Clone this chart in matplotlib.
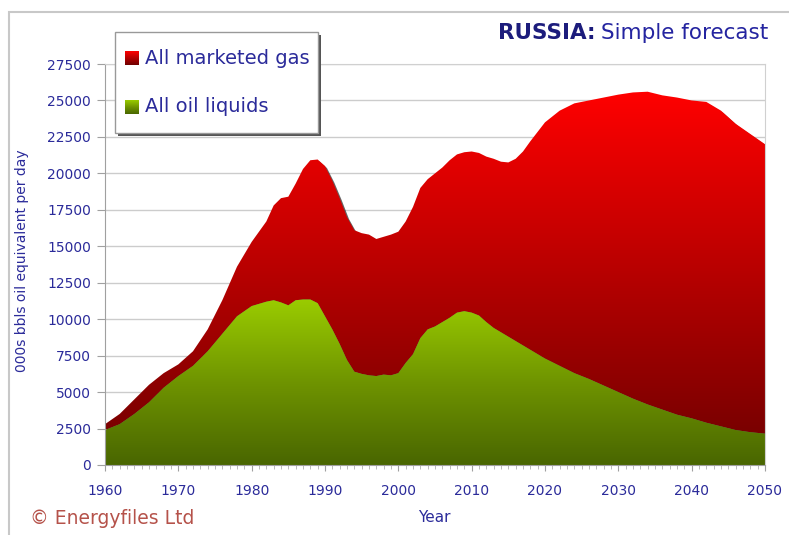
import numpy as np
import matplotlib
matplotlib.use('Agg')
import matplotlib.pyplot as plt
from matplotlib.colors import LinearSegmentedColormap
from matplotlib.patches import Rectangle
from matplotlib.ticker import MultipleLocator
from matplotlib.transforms import ScaledTranslation

years = [1960, 1962, 1964, 1966, 1968, 1970, 1972, 1974, 1976, 1978, 1980, 1982,
         1983, 1984, 1985, 1986, 1987, 1988, 1989, 1990, 1991, 1992, 1993, 1994,
         1995, 1996, 1997, 1998, 1999, 2000, 2001, 2002, 2003, 2004, 2005, 2006,
         2007, 2008, 2009, 2010, 2011, 2012, 2013, 2014, 2015, 2016, 2017, 2018,
         2020, 2022, 2024, 2026, 2028, 2030, 2032, 2034, 2036, 2038, 2040, 2042,
         2044, 2046, 2048, 2050]
total = [2800, 3500, 4500, 5500, 6300, 6900, 7800, 9300, 11300, 13600, 15300, 16700,
         17800, 18300, 18400, 19300, 20300, 20900, 20950, 20500, 19500, 18300, 17000, 16100,
         15900, 15800, 15500, 15650, 15800, 16000, 16700, 17700, 19000, 19600, 20000, 20400,
         20900, 21300, 21450, 21500, 21400, 21150, 21000, 20800, 20750, 21000, 21500, 22200,
         23500, 24300, 24800, 25000, 25200, 25400, 25550, 25600, 25350, 25200, 25000, 24900,
         24300, 23400, 22700, 22000]
oil = [2400, 2800, 3500, 4300, 5300, 6100, 6800, 7800, 9000, 10200, 10900, 11200,
       11300, 11150, 10950, 11300, 11350, 11350, 11100, 10200, 9300, 8300, 7200, 6400,
       6250, 6150, 6100, 6200, 6150, 6300, 7000, 7600, 8700, 9300, 9500, 9800,
       10100, 10450, 10550, 10450, 10250, 9800, 9400, 9100, 8800, 8500, 8200, 7900,
       7300, 6800, 6300, 5900, 5450, 5000, 4550, 4150, 3800, 3450, 3200, 2900,
       2650, 2400, 2250, 2150]
series_names = ["All marketed gas", "All oil liquids"]
yticks = [0, 2500, 5000, 7500, 10000, 12500, 15000, 17500, 20000, 22500, 25000, 27500]
xticks = [1960, 1970, 1980, 1990, 2000, 2010, 2020, 2030, 2040, 2050]

W, H = 789, 535
fig = plt.figure(figsize=(W / 100, H / 100), dpi=100)
def fx(px): return px / W
def fy(py): return 1 - py / H

blue = '#2b2b9a'
red_cmap = LinearSegmentedColormap.from_list('r', ['#6e0000', '#b50000', '#ff0000'])
green_cmap = LinearSegmentedColormap.from_list('g', ['#496600', '#6f9400', '#9acc00'])

# outer frame
fig.add_artist(Rectangle((fx(9), fy(560)), fx(800) - fx(9), fy(12) - fy(560),
                         transform=fig.transFigure, fill=False, ec='#c8c8c8', lw=1.5,
                         clip_on=False))

ax = fig.add_axes([fx(105), fy(465), fx(765) - fx(105), fy(64) - fy(465)])
ax.set_facecolor('white')

# soft shadow under the stacked area
shadow_tr = ax.transData + ScaledTranslation(1.5 / 100, -1.5 / 100, fig.dpi_scale_trans)
ax.fill_between(years, 0, total, color='#222222', alpha=0.7, lw=0,
                transform=shadow_tr, zorder=1.5)

red_poly = ax.fill_between(years, oil, total, color='none', lw=0)
green_poly = ax.fill_between(years, 0, oil, color='none', lw=0)

grad = np.linspace(0, 1, 256).reshape(-1, 1)
im_r = ax.imshow(grad, extent=[1960, 2050, 0, max(total)], origin='lower',
                 aspect='auto', cmap=red_cmap, zorder=2)
im_r.set_clip_path(red_poly.get_paths()[0], transform=ax.transData)
im_g = ax.imshow(grad, extent=[1960, 2050, 0, max(oil)], origin='lower',
                 aspect='auto', cmap=green_cmap, zorder=2)
im_g.set_clip_path(green_poly.get_paths()[0], transform=ax.transData)

ax.set_xlim(1960, 2050)
ax.set_ylim(0, 27500)
ax.set_yticks(yticks)
ax.set_yticklabels([str(v) for v in yticks])
ax.set_xticks(xticks)
ax.set_xticklabels([str(v) for v in xticks])
ax.xaxis.set_minor_locator(MultipleLocator(1))
ax.grid(axis='y', color='#cccccc', lw=1, zorder=0)
ax.set_axisbelow(True)
for s in ['top', 'right']:
    ax.spines[s].set_color('#d0d0d0')
for s in ['left', 'bottom']:
    ax.spines[s].set_color('#a0a0a0')
ax.tick_params(axis='y', length=6, color='#a0a0a0', labelcolor=blue, labelsize=10, pad=4)
ax.tick_params(axis='x', which='major', length=4, color='#a0a0a0', labelcolor=blue,
               labelsize=10, pad=10)
ax.tick_params(axis='x', which='minor', length=3, color='#b0b0b0')
for lab in ax.get_xticklabels() + ax.get_yticklabels():
    lab.set_family('DejaVu Sans')

fig.text(fx(22), fy(261), '000s bbls oil equivalent per day', rotation=90,
         ha='center', va='center', color=blue, fontsize=10, family='DejaVu Sans')
fig.text(fx(434), fy(517), 'Year', ha='center', va='center', color=blue,
         fontsize=11, family='DejaVu Sans')
fig.text(fx(30), fy(519), '\u00a9 Energyfiles Ltd', ha='left', va='center',
         color='#b5524a', fontsize=13.5, family='DejaVu Sans')

# title
t1 = fig.text(fx(498), fy(33), 'RUSSIA:', ha='left', va='center', color='#1c1c7c',
              fontsize=15.5, fontweight='bold', family='DejaVu Sans')
fig.canvas.draw()
bb = t1.get_window_extent()
fig.text(bb.x1 / W + fx(6), fy(33), 'Simple forecast', ha='left', va='center',
         color='#2424a0', fontsize=15.5, family='DejaVu Sans')

# legend box
fig.add_artist(Rectangle((fx(118), fy(136)), fx(318) - fx(115), fy(32) - fy(133),
                         transform=fig.transFigure, fc='#555555', ec='none', zorder=5))
fig.add_artist(Rectangle((fx(115), fy(133)), fx(318) - fx(115), fy(32) - fy(133),
                         transform=fig.transFigure, fc='white', ec='#999999', lw=1, zorder=6))
for i, (name, cm) in enumerate(zip(series_names, [red_cmap, green_cmap])):
    yc = 58 + i * 49
    lax = fig.add_axes([fx(125), fy(yc + 7), fx(14), fx(14) * W / H], zorder=7)
    lax.imshow(grad, origin='lower', aspect='auto', cmap=cm)
    lax.set_axis_off()
    fig.text(fx(145), fy(yc), name, ha='left', va='center', color=blue,
             fontsize=14, family='DejaVu Sans', zorder=8)

fig.savefig('out.png', dpi=100)
